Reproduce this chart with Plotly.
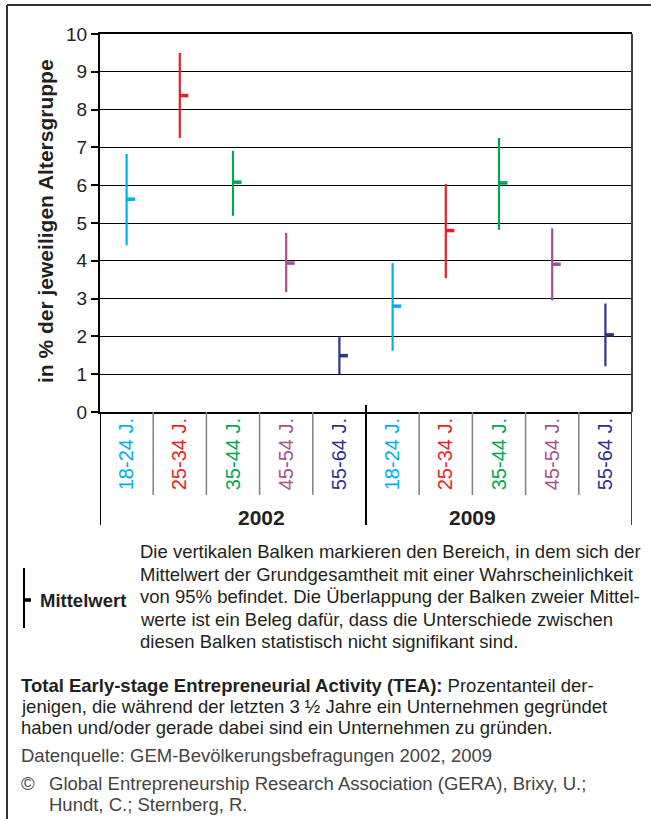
import plotly.graph_objects as go

# ---- data ----
categories = ["18-24 J.", "25-34 J.", "35-44 J.", "45-54 J.", "55-64 J.",
              "18-24 J.", "25-34 J.", "35-44 J.", "45-54 J.", "55-64 J."]
years = ["2002", "2009"]
means = [5.63, 8.37, 6.08, 3.94, 1.49, 2.80, 4.80, 6.06, 3.91, 2.04]
lows = [4.41, 7.25, 5.19, 3.17, 1.00, 1.62, 3.54, 4.82, 2.95, 1.21]
highs = [6.83, 9.50, 6.91, 4.74, 1.98, 3.94, 6.03, 7.25, 4.86, 2.87]
colors = ["#00AEEF", "#ED1C24", "#00A651", "#A4508F", "#2E3192"] * 2
y_ticks = list(range(0, 11))

y_title = "in % der jeweiligen Altersgruppe"
legend_label = "Mittelwert"
note_lines = [
    "Die vertikalen Balken markieren den Bereich, in dem sich der",
    "Mittelwert der Grundgesamtheit mit einer Wahrscheinlichkeit",
    "von 95% befindet. Die Überlappung der Balken zweier Mittel-",
    "werte ist ein Beleg dafür, dass die Unterschiede zwischen",
    "diesen Balken statistisch nicht signifikant sind.",
]
def_lines = [
    "<b>Total Early-stage Entrepreneurial Activity (TEA):</b> Prozentanteil der-",
    "jenigen, die während der letzten 3 ½ Jahre ein Unternehmen gegründet",
    "haben und/oder gerade dabei sind ein Unternehmen zu gründen.",
]
source_line = "Datenquelle: GEM-Bevölkerungsbefragungen 2002, 2009"
copy_lines = ["Global Entrepreneurship Research Association (GERA), Brixy, U.;",
              "Hundt, C.; Sternberg, R."]

FONT = "Liberation Sans, Arial, sans-serif"
TXT = 18.5
W, H = 651, 819
L, R, T, B = 100, 19, 34, 407
PW, PH = W - L - R, H - T - B


def px(x):
    return (x - L) / PW


def py(y):
    return (H - B - y) / PH


fig = go.Figure()
for i in range(len(categories)):
    fig.add_trace(go.Scatter(x=[i, i], y=[lows[i], highs[i]], mode="lines",
                             line=dict(color=colors[i], width=2.2),
                             showlegend=False, hoverinfo="skip"))
    fig.add_trace(go.Scatter(x=[i, i + 0.16], y=[means[i], means[i]], mode="lines",
                             line=dict(color=colors[i], width=3.5),
                             showlegend=False, hoverinfo="skip"))

ticktext = [f'<span style="color:{c}">{t}</span>' for t, c in zip(categories, colors)]

shapes = []
# category separators below the axis
for i in range(len(categories) - 1):
    if i == 4:
        continue
    shapes.append(dict(type="line", xref="x", yref="paper", x0=i + 0.5, x1=i + 0.5,
                       y0=0, y1=py(495), line=dict(color="#808080", width=1.5)))
# group separators
for xv, col in [(-0.5, "black"), (4.5, "black"), (9.5, "#404040")]:
    shapes.append(dict(type="line", xref="x", yref="paper", x0=xv, x1=xv,
                       y0=py(405) if xv == 4.5 else 0, y1=py(525),
                       line=dict(color=col, width=2)))
# right border of plot
shapes.append(dict(type="line", xref="paper", yref="paper", x0=1, x1=1, y0=0, y1=1,
                   line=dict(color="#404040", width=2)))
# legend symbol
shapes.append(dict(type="line", xref="paper", yref="paper", x0=px(24), x1=px(24),
                   y0=py(568), y1=py(628), line=dict(color="black", width=2)))
shapes.append(dict(type="line", xref="paper", yref="paper", x0=px(24), x1=px(31),
                   y0=py(600), y1=py(600), line=dict(color="black", width=3.5)))
# outer frame (top + left)
shapes.append(dict(type="line", xref="paper", yref="paper", x0=px(7), x1=px(660),
                   y0=py(5), y1=py(5), line=dict(color="#333333", width=2)))
shapes.append(dict(type="line", xref="paper", yref="paper", x0=px(7), x1=px(7),
                   y0=py(5), y1=py(830), line=dict(color="#333333", width=2)))

ann = []
ann.append(dict(text=f"<b>{y_title}</b>", x=px(45.5), y=py(221.5), xref="paper", yref="paper",
                textangle=-90, showarrow=False, xanchor="center", yanchor="middle",
                font=dict(size=21, color="#231F20", family=FONT)))
for yr, xc in zip(years, [261, 472]):
    ann.append(dict(text=f"<b>{yr}</b>", x=px(xc), y=py(517), xref="paper", yref="paper",
                    showarrow=False, xanchor="center", yanchor="middle",
                    font=dict(size=21, color="#231F20", family=FONT)))
ann.append(dict(text=f"<b>{legend_label}</b>", x=px(38), y=py(600), xref="paper", yref="paper",
                showarrow=False, xanchor="left", yanchor="middle",
                font=dict(size=TXT, color="#231F20", family=FONT)))
for k, line in enumerate(note_lines):
    ann.append(dict(text=line, x=px(138), y=py(551.5 + 22.5 * k), xref="paper", yref="paper",
                    showarrow=False, xanchor="left", yanchor="middle",
                    font=dict(size=TXT, color="#231F20", family=FONT)))
for k, line in enumerate(def_lines):
    ann.append(dict(text=line, x=px(19), y=py(685 + 21 * k), xref="paper", yref="paper",
                    showarrow=False, xanchor="left", yanchor="middle",
                    font=dict(size=TXT, color="#231F20", family=FONT)))
ann.append(dict(text=source_line, x=px(19), y=py(755), xref="paper", yref="paper",
                showarrow=False, xanchor="left", yanchor="middle",
                font=dict(size=TXT, color="#444444", family=FONT)))
ann.append(dict(text="©", x=px(19), y=py(783), xref="paper", yref="paper",
                showarrow=False, xanchor="left", yanchor="middle",
                font=dict(size=TXT, color="#444444", family=FONT)))
for k, line in enumerate(copy_lines):
    ann.append(dict(text=line, x=px(47), y=py(783 + 21 * k), xref="paper", yref="paper",
                    showarrow=False, xanchor="left", yanchor="middle",
                    font=dict(size=TXT, color="#444444", family=FONT)))

fig.update_layout(
    width=W, height=H,
    margin=dict(l=L, r=R, t=T, b=B, pad=0),
    paper_bgcolor="white", plot_bgcolor="white",
    font=dict(family=FONT, color="#231F20"),
    xaxis=dict(range=[-0.5, 9.5], tickvals=list(range(len(categories))), ticktext=ticktext,
               tickangle=-90, ticks="", showgrid=False, zeroline=False,
               showline=True, linecolor="black", linewidth=2, mirror=True,
               ticklabelstandoff=-4,
               tickfont=dict(size=20, family=FONT)),
    yaxis=dict(range=[0, 10], tickvals=y_ticks, ticks="outside", ticklen=7,
               tickcolor="black", tickwidth=1.5, showgrid=True, gridcolor="black",
               gridwidth=1, zeroline=False, showline=True, linecolor="black",
               linewidth=2, tickfont=dict(size=19, family=FONT, color="#231F20")),
    shapes=shapes, annotations=ann,
)
fig.write_html("out.html", config={"displayModeBar": False},
               post_script="document.body.style.margin='0';document.body.style.overflow='hidden';")
